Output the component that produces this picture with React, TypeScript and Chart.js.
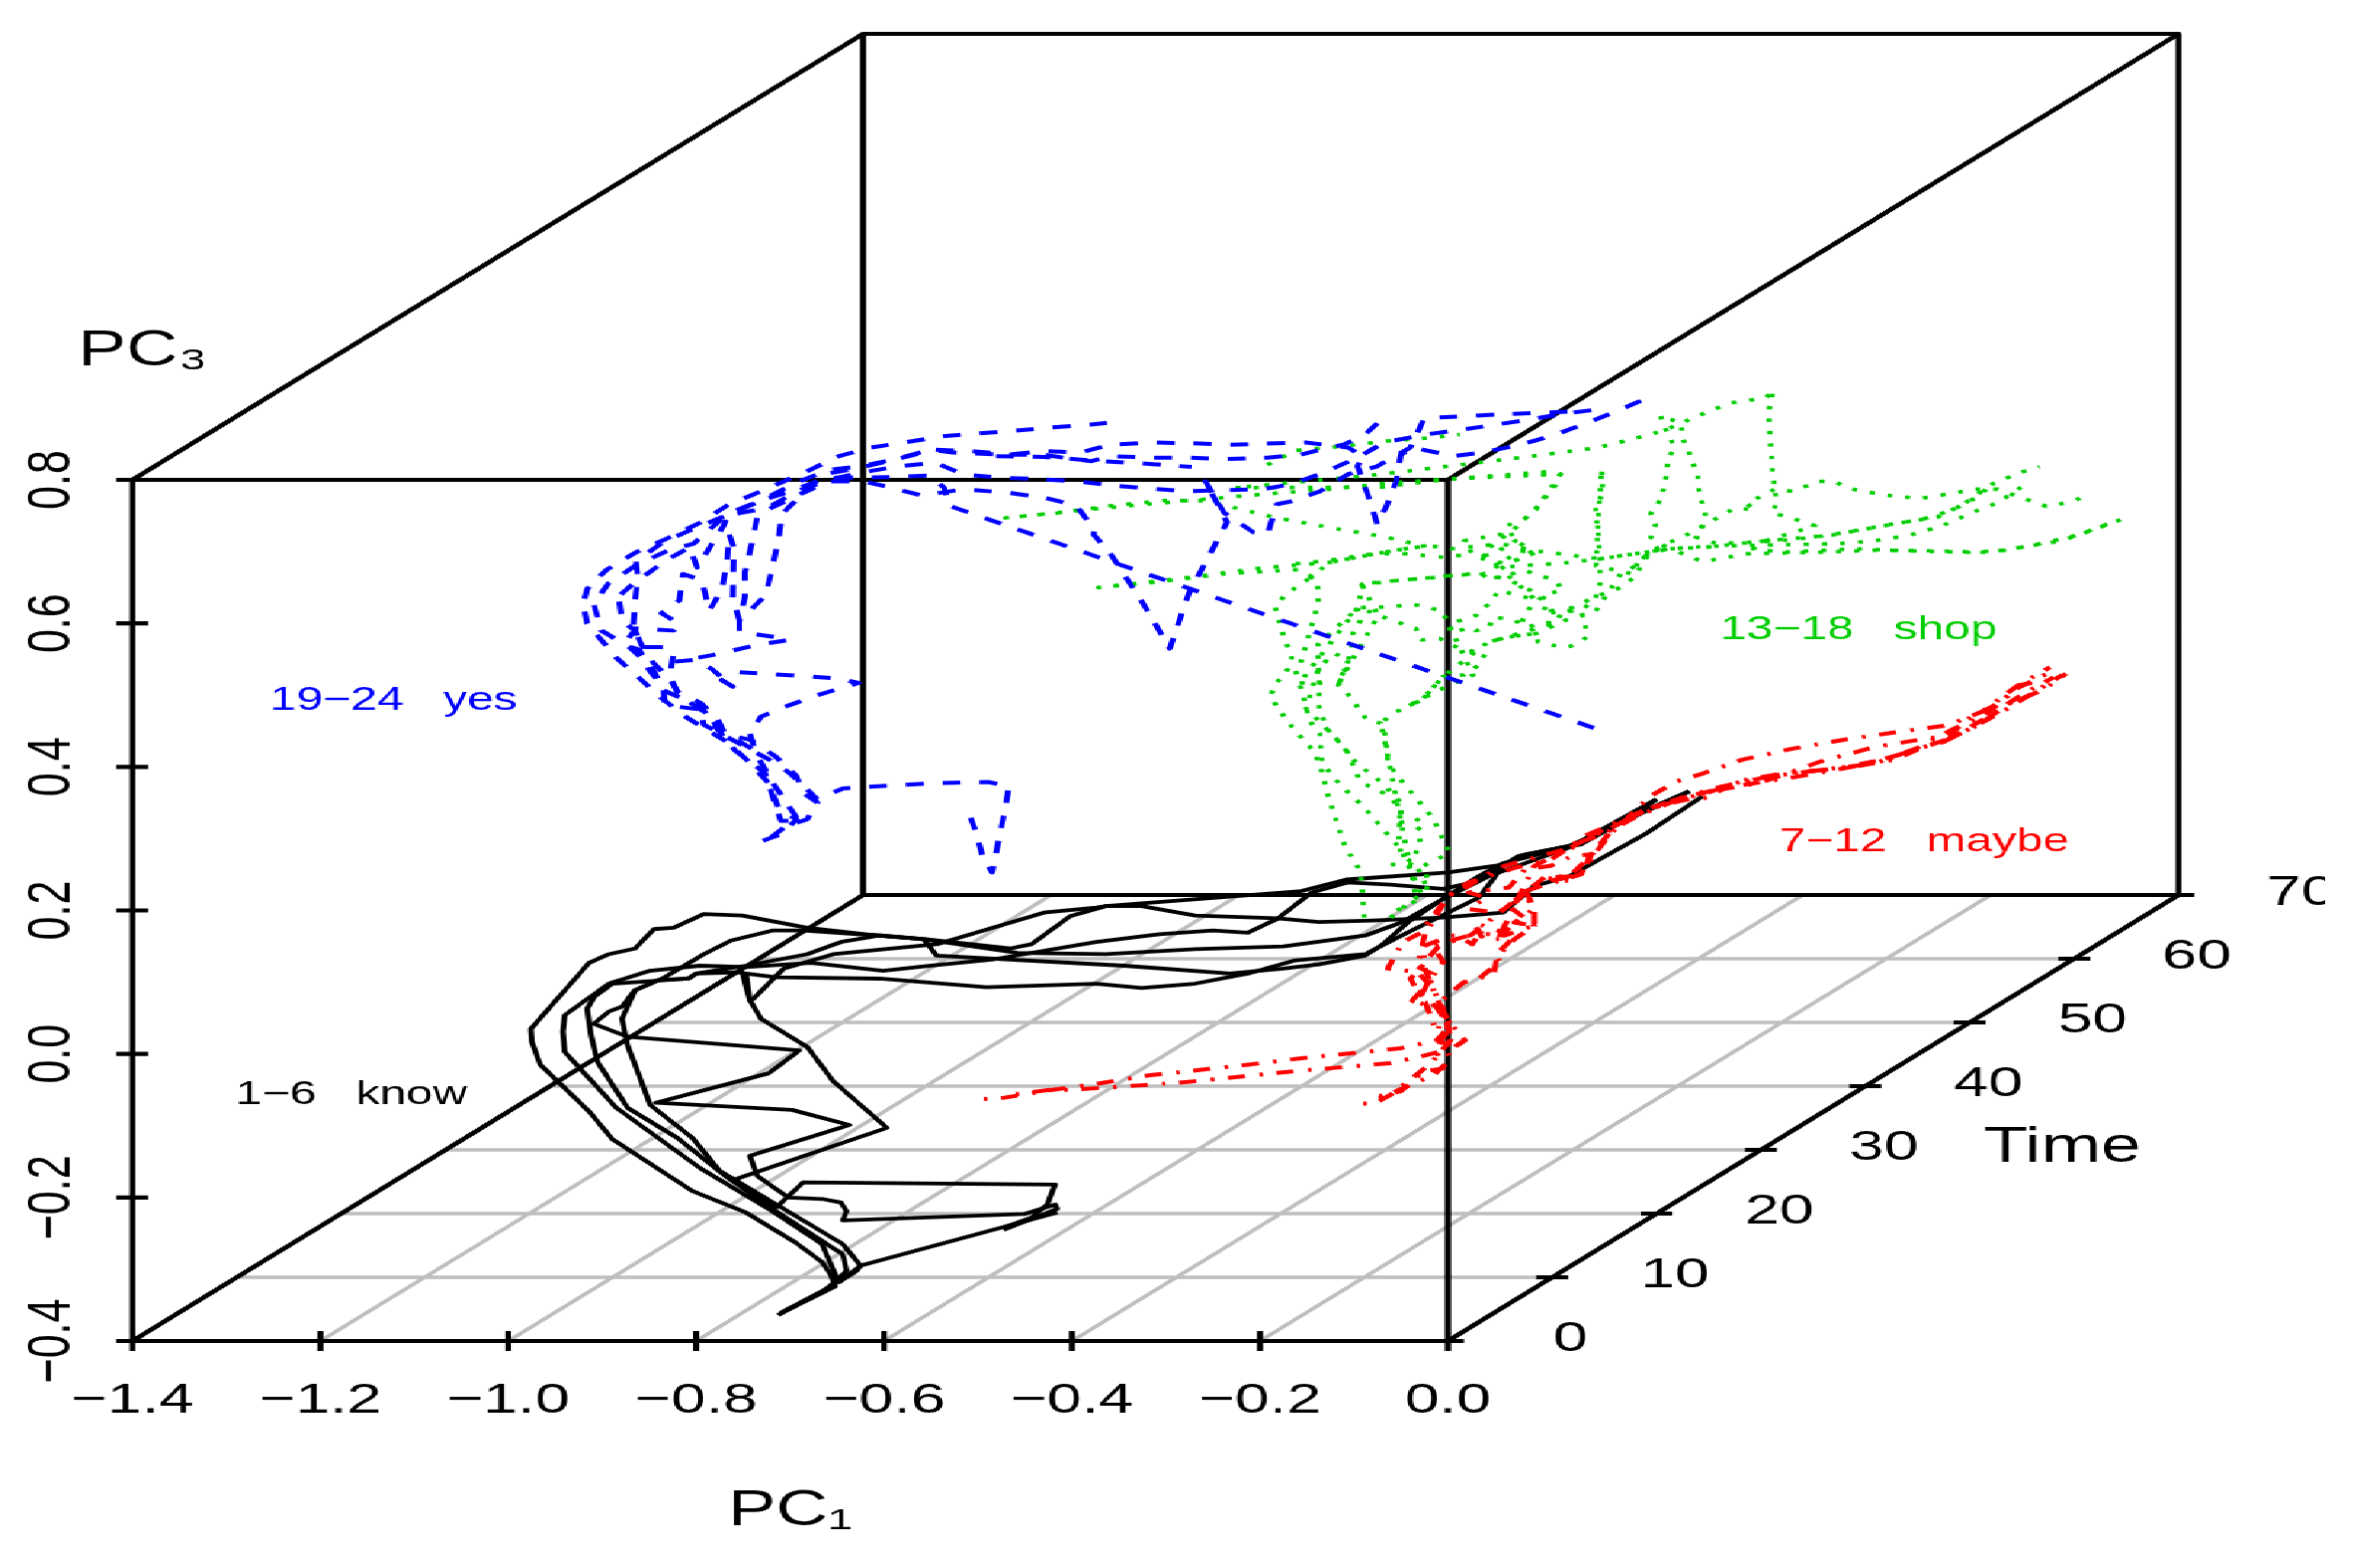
import React, { useEffect, useRef } from "react";
import { Chart, registerables } from "chart.js";

Chart.register(...registerables);

type P = [number, number];

const pc1Ticks = [-1.4, -1.2, -1.0, -0.8, -0.6, -0.4, -0.2, 0.0];
const pc1Labels = ["−1.4", "−1.2", "−1.0", "−0.8", "−0.6", "−0.4", "−0.2", "0.0"];
const pc3Ticks = [-0.4, -0.2, 0.0, 0.2, 0.4, 0.6, 0.8];
const pc3Labels = ["−0.4", "−0.2", "0.0", "0.2", "0.4", "0.6", "0.8"];
const timeTicks = [0, 10, 20, 30, 40, 50, 60, 70];

const black1: P[] = [[-.713,-.364],[-.686,-.346],[-.652,-.324],[-.656,-.309],[-.666,-.290],[-.694,-.263],[-.747,-.221],[-.804,-.191],[-.889,-.119],[-.914,-.080],[-.966,-.015],[-.975,.017],[-.976,.035],[-.914,.127],[-.893,.139],[-.865,.147],[-.845,.174],[-.824,.176],[-.792,.195],[-.751,.193],[-.682,.176],[-.613,.166],[-.556,.160],[-.466,.147],[-.443,.153],[-.402,.192],[-.364,.206],[-.326,.206],[-.269,.193],[-.182,.189],[-.137,.184],[-.080,.186],[-.005,.190],[.059,.197],[.092,.234],[.130,.248],[.168,.276],[.212,.308],[.271,.359]];
const black2: P[] = [[-.711,-.362],[-.674,-.336],[-.654,-.323],[-.650,-.313],[-.666,-.265],[-.719,-.219],[-.796,-.159],[-.885,-.075],[-.940,.003],[-.942,.031],[-.940,.054],[-.893,.098],[-.849,.116],[-.796,.123],[-.747,.121],[-.678,.127],[-.601,.116],[-.552,.123],[-.483,.132],[-.374,.156],[-.307,.167],[-.250,.172],[-.213,.169],[-.182,.188],[-.145,.225],[-.107,.239],[-.061,.236],[-.005,.230],[.033,.241],[.059,.262],[.076,.276],[.130,.290],[.141,.292],[.184,.322],[.222,.355]];
const black3: P[] = [[-.709,-.360],[-.670,-.335],[-.652,-.318],[-.640,-.302],[-.644,-.279],[-.715,-.219],[-.767,-.172],[-.820,-.117],[-.873,-.075],[-.905,-.011],[-.912,.026],[-.916,.063],[-.909,.079],[-.889,.098],[-.808,.105],[-.800,.112],[-.751,.114],[-.743,.075],[-.747,.112],[-.715,.107],[-.605,.105],[-.491,.093],[-.374,.098],[-.326,.092],[-.269,.098],[-.213,.112],[-.164,.130],[-.088,.139],[-.043,.169],[.033,.218],[.060,.264],[.082,.278],[.141,.292],[.190,.327],[.257,.366]];
const black4: P[] = [[-.416,-.221],[-.625,-.295],[-.629,-.302],[-.648,-.318],[-.625,-.295],[-.644,-.265],[-.759,-.175],[-.775,-.163],[-.804,-.117],[-.849,-.071],[-.861,-.029],[-.873,.012],[-.879,.049],[-.865,.089],[-.836,.105],[-.792,.139],[-.763,.158],[-.719,.172],[-.686,.172],[-.609,.165],[-.558,.160],[-.458,.141],[-.364,.139],[-.269,.146],[-.175,.150],[-.088,.165],[-.050,.183],[-.005,.216],[.033,.248],[.059,.266],[.130,.289],[.195,.331],[.257,.366]];
const black5: P[] = [[-.473,-.245],[-.443,-.230],[-.416,-.216],[-.418,-.210],[-.451,-.223],[-.644,-.232],[-.640,-.219],[-.646,-.207],[-.666,-.202],[-.702,-.200],[-.735,-.170],[-.743,-.142],[-.637,-.099],[-.698,-.078],[-.843,-.068],[-.723,-.027],[-.690,.005],[-.873,.024],[-.909,.042],[-.893,.059],[-.879,.066],[-.865,.089],[-.840,.103],[-.808,.105],[-.800,.112],[-.747,.123],[-.682,.139],[-.646,.156],[-.605,.165],[-.558,.160],[-.544,.137],[-.345,.123],[-.232,.112],[-.175,.119],[-.137,.125],[-.088,.137],[-.069,.153],[-.043,.183],[-.005,.216],[.044,.248],[.130,.288],[.222,.355]];
const black6: P[] = [[-.473,-.242],[-.443,-.228],[-.426,-.209],[-.418,-.182],[-.686,-.179],[-.715,-.214],[-.759,-.175],[-.597,-.103],[-.654,-.038],[-.682,.010],[-.731,.049],[-.743,.075],[-.739,.077],[-.707,.119],[-.654,.139],[-.544,.153],[-.430,.197],[-.374,.204],[-.364,.206],[-.156,.227],[-.108,.243],[.0,.253],[.060,.264],[.076,.276],[.130,.290],[.257,.366]];

const red1: P[] = [[-.494,-.063],[-.472,-.061],[-.421,-.050],[-.371,-.041],[-.319,-.030],[-.262,-.022],[-.213,-.015],[-.156,-.006],[-.103,.001],[-.050,.008],[-.012,.019],[.003,.040],[-.005,.058],[-.016,.091],[-.024,.118],[-.027,.153],[-.022,.181],[-.005,.211],[.007,.227],[.022,.239],[.073,.260],[.110,.271],[.142,.299],[.183,.322],[.211,.341],[.252,.354],[.276,.357],[.308,.380],[.361,.392],[.422,.398],[.475,.410],[.512,.431],[.532,.438],[.564,.458],[.597,.488],[.633,.507],[.658,.530]];
const red2: P[] = [[-.460,-.056],[-.424,-.050],[-.402,-.050],[-.330,-.044],[-.277,-.039],[-.224,-.032],[-.171,-.025],[-.118,-.019],[-.062,-.013],[-.024,-.002],[-.009,.003],[.003,.017],[-.001,.045],[-.010,.035],[-.005,.063],[-.016,.091],[-.032,.114],[-.064,.119],[-.048,.156],[-.021,.174],[.0,.220],[.022,.234],[.038,.248],[.060,.262],[.130,.287],[.146,.304],[.187,.327],[.235,.350],[.288,.368],[.333,.378],[.398,.408],[.455,.428],[.536,.445],[.548,.463],[.589,.491],[.605,.509],[.641,.532]];
const red3: P[] = [[-.090,-.069],[-.078,-.069],[-.061,-.057],[-.043,-.039],[-.020,-.015],[-.009,.0],[.003,.02],[-.005,.06],[-.032,.072],[-.021,.100],[-.005,.128],[-.016,.151],[.033,.169],[.060,.165],[.092,.179],[.071,.183],[.092,.202],[.082,.230],[.114,.243],[.141,.248],[.152,.276],[.130,.290],[.168,.308],[.201,.331],[.244,.354],[.276,.364],[.308,.378],[.345,.387],[.398,.396],[.455,.405],[.495,.424],[.528,.435],[.560,.456],[.593,.479],[.625,.505],[.654,.528]];
const red4: P[] = [[-.005,.026],[.010,.012],[.018,.019],[-.001,.049],[-.009,.072],[.017,.100],[.033,.105],[.049,.112],[.052,.135],[.071,.160],[.092,.179],[.065,.206],[.082,.227],[.141,.250],[.157,.280],[.174,.308],[.190,.327],[.215,.359],[.244,.380],[.272,.391],[.313,.410],[.369,.426],[.422,.438],[.475,.448],[.532,.458],[.569,.477],[.605,.512],[.641,.539]];
const red5: P[] = [[-.073,-.059],[-.050,-.052],[-.027,-.025],[-.005,-.020],[-.012,.003],[-.005,.026],[-.012,.031],[-.024,.072],[-.035,.077],[-.043,.068],[-.012,.109],[-.035,.123],[-.024,.151],[.003,.165],[.010,.165],[.026,.153],[.033,.167],[.056,.167],[.092,.262],[.114,.276],[.147,.299],[.174,.315],[.210,.340],[.250,.358],[.30,.372],[.37,.386],[.43,.400],[.49,.420],[.535,.440],[.575,.470],[.61,.500],[.645,.525]];
const red6: P[] = [[-.073,-.062],[-.043,-.045],[-.016,-.030],[.003,-.008],[-.007,.020],[.003,.035],[-.012,.065],[-.031,.085],[-.040,.105],[-.030,.118],[-.020,.135],[-.010,.15],[.025,.166],[.060,.202],[.082,.225],[.103,.246],[.130,.248],[.152,.276],[.184,.327],[.231,.350],[.292,.373],[.353,.389],[.414,.398],[.471,.412],[.499,.426],[.540,.454],[.572,.472],[.609,.514],[.637,.521]];
const red7: P[] = [[.017,.100],[.033,.105],[.055,.128],[.052,.139],[.068,.160],[.038,.160],[.033,.169],[.028,.183],[.060,.169],[.071,.183],[.092,.179],[.092,.199],[.082,.225],[.068,.206],[.052,.197],[.022,.202],[.041,.218],[.022,.225],[.065,.232],[.082,.257],[.109,.262],[.133,.276],[.152,.278],[.141,.248],[.103,.246],[.128,.241]];

const blue1: P[] = [[-.729,.297],[-.710,.306],[-.693,.327],[-.712,.341],[-.722,.376],[-.743,.406],[-.765,.433],[-.809,.468],[-.839,.498],[-.858,.521],[-.884,.551],[-.901,.577],[-.916,.600],[-.920,.627],[-.916,.648],[-.896,.674],[-.864,.699],[-.828,.720],[-.795,.741],[-.765,.766],[-.731,.784],[-.682,.812],[-.648,.833],[-.614,.845],[-.569,.854],[-.535,.861],[-.467,.868],[-.421,.873],[-.380,.877],[-.344,.882]];
const blue2: P[] = [[-.693,.322],[-.682,.327],[-.671,.350],[-.686,.364],[-.693,.387],[-.716,.415],[-.743,.438],[-.769,.445],[-.777,.466],[-.795,.489],[-.820,.505],[-.828,.523],[-.845,.544],[-.858,.570],[-.867,.595],[-.865,.632],[-.862,.664],[-.864,.687],[-.833,.715],[-.795,.736],[-.765,.752],[-.731,.771],[-.697,.794],[-.659,.814],[-.625,.819],[-.591,.828],[-.550,.842],[-.527,.838],[-.470,.835],[-.429,.840],[-.391,.838],[-.359,.849],[-.314,.852],[-.273,.851],[-.233,.849],[-.151,.852],[-.106,.845],[-.091,.833],[-.096,.819],[-.083,.771],[-.075,.738],[-.065,.764],[-.055,.798],[-.050,.835],[-.037,.845],[.006,.833],[.036,.838],[.077,.849],[.110,.861],[.148,.879],[.178,.895],[.216,.916]];
const blue3: P[] = [[-.720,.302],[-.697,.325],[-.710,.325],[-.714,.341],[-.727,.392],[-.758,.422],[-.777,.452],[-.795,.484],[-.835,.507],[-.846,.537],[-.871,.567],[-.901,.590],[-.909,.627],[-.894,.655],[-.864,.681],[-.831,.701],[-.803,.711],[-.769,.750],[-.724,.761],[-.693,.784],[-.656,.801],[-.625,.810],[-.584,.819],[-.546,.824],[-.514,.807],[-.474,.803],[-.434,.801],[-.395,.798],[-.354,.792],[-.319,.788],[-.278,.784],[-.197,.787],[-.167,.794],[-.136,.808],[-.096,.831],[-.068,.852],[-.025,.863],[.016,.870],[.051,.877],[.087,.884],[.127,.893],[.160,.898]];
const blue4: P[] = [[-.693,.329],[-.716,.373],[-.739,.424],[-.773,.450],[-.792,.477],[-.818,.500],[-.828,.526],[-.824,.558],[-.833,.567],[-.856,.567],[-.865,.590],[-.879,.604],[-.882,.632],[-.888,.632],[-.867,.655],[-.833,.687],[-.807,.706],[-.799,.678],[-.771,.736],[-.765,.754],[-.731,.771],[-.693,.787],[-.663,.803],[-.625,.803],[-.589,.804],[-.552,.806],[-.536,.789],[-.531,.764],[.165,.450]];
const blue5: P[] = [[-.739,.429],[-.743,.447],[-.731,.470],[-.705,.484],[-.671,.500],[-.627,.517],[-.648,.523],[-.678,.526],[-.716,.529],[-.756,.532],[-.773,.521],[-.761,.512],[-.784,.537],[-.803,.549],[-.820,.547],[-.782,.556],[-.735,.570],[-.701,.577],[-.716,.581],[-.754,.588],[-.754,.604],[-.748,.637],[-.748,.671],[-.741,.711],[-.735,.748],[-.720,.761],[-.686,.782],[-.659,.798],[-.622,.798],[-.599,.791],[-.559,.778],[-.516,.787],[-.467,.782],[-.429,.775],[-.395,.764],[-.376,.729],[-.377,.724],[-.359,.697],[-.324,.627],[-.296,.565],[-.276,.641],[-.235,.741],[-.258,.798],[-.238,.754],[-.207,.727],[-.192,.724],[-.182,.766],[-.167,.770],[-.136,.784],[-.106,.808],[-.075,.819],[-.040,.845],[-.025,.886],[.011,.888],[.051,.891],[.089,.893],[.127,.895]];
const blue6: P[] = [[-.508,.329],[-.502,.309],[-.495,.274],[-.485,.253],[-.478,.299],[-.472,.336],[-.467,.373],[-.489,.379],[-.527,.378],[-.567,.376],[-.606,.373],[-.644,.370],[-.671,.355],[-.701,.392],[-.722,.410],[-.792,.459],[-.795,.480],[-.833,.486],[-.835,.510],[-.850,.535],[-.860,.563],[-.877,.570],[-.864,.593],[-.824,.590],[-.818,.600],[-.837,.614],[-.818,.632],[-.814,.669],[-.794,.660],[-.786,.618],[-.773,.646],[-.767,.687],[-.765,.724],[-.760,.706],[-.761,.634],[-.754,.604],[-.726,.639],[-.718,.683],[-.712,.720],[-.709,.752],[-.686,.782],[-.663,.808],[-.625,.817],[-.589,.828],[-.546,.842],[-.508,.840],[-.463,.835],[-.429,.835],[-.410,.831],[-.380,.826],[-.359,.833],[-.314,.831],[-.278,.831],[-.238,.829],[-.192,.831],[-.157,.835],[-.126,.845],[-.111,.849],[-.088,.863],[-.065,.891]];
const blue7: P[] = [[-.481,.833],[-.430,.832],[-.369,.826],[-.314,.822],[-.273,.818]];

const green1: P[] = [[-.089,.190],[-.091,.225],[-.093,.255],[-.109,.288],[-.118,.322],[-.127,.358],[-.134,.393],[-.142,.421],[-.163,.451],[-.182,.484],[-.189,.499],[-.183,.516],[-.172,.532],[-.166,.552],[-.171,.569],[-.176,.587],[-.184,.623],[-.174,.638],[-.161,.651],[-.147,.663],[-.140,.662],[-.159,.675],[-.238,.669],[-.314,.657],[-.372,.650],[-.276,.664],[-.200,.677],[-.126,.685],[-.060,.701],[-.022,.708],[-.002,.706],[.004,.704],[.056,.711],[.094,.701],[.162,.690],[.199,.697],[.237,.704],[.271,.686],[.319,.697],[.393,.699],[.457,.702],[.518,.701],[.576,.699],[.614,.707],[.653,.715],[.688,.731],[.723,.748]];
const green2: P[] = [[-.061,.190],[-.043,.209],[-.024,.227],[-.020,.237],[-.026,.262],[.002,.280],[-.004,.295],[-.016,.329],[-.036,.360],[-.056,.391],[-.064,.408],[-.066,.442],[-.071,.461],[-.086,.465],[-.104,.498],[-.115,.514],[-.139,.517],[-.158,.517],[-.162,.535],[-.157,.544],[-.138,.627],[-.138,.646],[-.140,.662],[-.146,.664],[-.126,.685],[-.060,.701],[-.025,.708],[-.050,.715],[-.068,.721],[-.106,.729],[-.144,.738],[-.182,.747],[-.220,.759],[-.258,.771],[-.303,.771],[-.359,.764],[-.415,.754],[-.471,.747],[-.380,.759],[-.278,.771],[-.197,.780],[-.126,.787],[-.060,.796],[-.002,.801],[.072,.808],[.112,.812],[.120,.808],[.114,.791],[.094,.761],[.069,.729],[.053,.715],[.036,.697],[.056,.678],[.085,.681],[.123,.684],[.162,.690],[.199,.697],[.237,.704],[.274,.706],[.338,.715],[.409,.723],[.447,.732],[.486,.741],[.521,.748],[.550,.767],[.579,.794],[.611,.811],[.630,.818]];
const green3: P[] = [[-.029,.225],[-.050,.285],[-.070,.315],[-.090,.345],[-.114,.374],[-.134,.406],[-.136,.446],[-.147,.464],[-.154,.499],[-.158,.517],[-.095,.623],[-.074,.611],[-.092,.655],[-.053,.660],[-.015,.664],[.004,.667],[.043,.669],[.075,.655],[.088,.646],[.107,.632],[.101,.614],[.142,.618],[.157,.634],[.162,.655],[.162,.690],[.160,.727],[.157,.764],[.165,.780],[.164,.815],[.160,.745],[.158,.680],[.197,.669],[.202,.685],[.216,.700],[.255,.706],[.295,.708],[.415,.711],[.454,.715],[.489,.722],[.526,.736],[.563,.757],[.585,.768],[.614,.793]];
const green4: P[] = [[-.024,.237],[-.033,.262],[-.050,.278],[-.052,.305],[-.050,.341],[-.064,.361],[-.093,.379],[-.107,.421],[-.127,.451],[-.137,.481],[-.137,.517],[-.138,.551],[-.138,.571],[-.095,.622],[-.057,.623],[-.041,.627],[-.021,.623],[-.005,.616],[.004,.586],[.024,.595],[.030,.590],[.043,.593],[.049,.609],[.072,.604],[.081,.595],[.107,.600],[.110,.618],[.142,.618],[.149,.582],[.136,.570],[.124,.566],[.096,.574],[.094,.586],[.065,.581],[.043,.574],[.157,.616],[.184,.669],[.197,.678],[.216,.701],[.235,.704],[.216,.720],[.221,.738],[.216,.753],[.227,.774],[.230,.791],[.233,.809],[.234,.827],[.241,.846],[.232,.870],[.226,.890],[.248,.879],[.250,.857],[.256,.841],[.261,.823],[.266,.805],[.267,.788],[.270,.771],[.274,.752],[.271,.734],[.264,.720],[.287,.711],[.319,.713],[.351,.715],[.390,.720],[.428,.728],[.467,.737],[.505,.745],[.537,.758],[.566,.778],[.578,.794]];
const green5: P[] = [[-.061,.264],[-.040,.264],[-.029,.294],[-.033,.312],[-.025,.321],[-.036,.329],[-.051,.322],[-.049,.349],[-.071,.379],[-.097,.405],[-.117,.437],[-.137,.464],[-.151,.481],[-.138,.536],[-.122,.558],[-.105,.551],[-.116,.517],[-.074,.611],[-.034,.593],[-.028,.577],[-.009,.579],[.014,.564],[.040,.558],[.033,.542],[.017,.528],[-.005,.526],[-.028,.493],[-.044,.484],[-.028,.493],[-.005,.526],[.043,.574],[.065,.581],[.094,.586],[.113,.597],[.122,.616],[.157,.637],[.184,.650],[.198,.664],[.216,.701],[.255,.724],[.306,.761],[.327,.758],[.318,.767],[.348,.787],[.367,.784],[.395,.798],[.411,.798],[.427,.788],[.464,.779],[.503,.774],[.540,.782],[.559,.787],[.585,.787],[.637,.763],[.666,.770],[.682,.781]];
const green6: P[] = [[-.054,.200],[-.033,.214],[-.071,.461],[-.060,.473],[-.044,.484],[-.028,.494],[-.013,.505],[.004,.515],[.027,.528],[.001,.599],[.030,.611],[.046,.630],[.054,.646],[.081,.637],[.094,.632],[.056,.676],[.091,.701],[.072,.715],[.062,.736],[.081,.745],[.094,.759],[.104,.778],[.120,.808],[.0,.801],[-.070,.790],[-.227,.789],[-.126,.801],[-.070,.808],[-.013,.817],[.045,.826],[.102,.835],[.160,.845],[.215,.863],[.232,.870],[.266,.889],[.300,.907],[.338,.914],[.347,.925],[.341,.895],[.343,.858],[.345,.824],[.346,.805],[.348,.787],[.350,.768],[.345,.754],[.363,.748],[.391,.736],[.338,.715],[.325,.704],[.356,.699],[.434,.704],[.492,.701],[.556,.699],[.595,.702],[.634,.712],[.670,.723],[.705,.740]];
const green7: P[] = [[-.192,.821],[-.162,.841],[-.111,.847],[-.065,.854],[-.025,.858],[.013,.863],[.051,.869],[.089,.872],[.130,.878],[.168,.883],[.207,.888],[.226,.890],[.237,.882],[.248,.879]];
const green8: P[] = [[-.162,.683],[-.126,.688],[-.080,.697],[-.045,.697],[-.004,.692],[.026,.697],[.017,.715],[.056,.724],[.072,.715],[.049,.697],[.030,.692],[.062,.683],[.094,.699],[.075,.701],[.056,.683],[.036,.664],[.056,.664],[.081,.674],[.114,.660],[.123,.646],[.104,.641],[.088,.623],[.075,.595]];
const green9: P[] = [[-.116,.516],[-.108,.540],[-.103,.563],[-.101,.586],[-.093,.604],[-.096,.621],[-.093,.639],[-.091,.655],[-.070,.657],[-.053,.660],[-.032,.662],[-.012,.664],[.006,.667],[.025,.669],[.040,.670]];

const blackSeries = [black1, black2, black3, black4, black5, black6];
const redSeries = [red1, red2, red3, red4, red5, red6, red7];
const blueSeries = [blue1, blue2, blue3, blue4, blue5, blue6, blue7];
const greenSeries = [green1, green2, green3, green4, green5, green6, green7, green8, green9];

const notes: { text: string; x: number; y: number; color: string; size: number }[] = [
  { text: "1−6   know", x: -1.167, y: -0.053, color: "#000000", size: 33 },
  { text: "7−12   maybe", x: 0.507, y: 0.300, color: "#FF0000", size: 33 },
  { text: "13−18   shop", x: 0.437, y: 0.595, color: "#00CD00", size: 33 },
  { text: "19−24   yes", x: -1.122, y: 0.496, color: "#0000FF", size: 33 },
  { text: "Time", x: 0.654, y: -0.127, color: "#000000", size: 50 },
  { text: "PC₃", x: -1.389, y: 0.983, color: "#000000", size: 50 },
];

const FONT = '"Liberation Sans", Arial, sans-serif';
const CANVAS_W = 1610;
const CANVAS_H = 1575;
const STRETCH = 2335 / CANVAS_W;
const TIME_X = 0.01111;
const TIME_Y = 0.008879;
const GAP = { x: NaN, y: NaN };
const proj = (pc1: number, t: number, pc3: number) => ({ x: pc1 + t * TIME_X, y: pc3 + t * TIME_Y });

function frameData() {
  const [x0, x1] = [pc1Ticks[0], pc1Ticks[pc1Ticks.length - 1]];
  const [t0, t1] = [timeTicks[0], timeTicks[timeTicks.length - 1]];
  const [y0, y1] = [pc3Ticks[0], pc3Ticks[pc3Ticks.length - 1]];
  const pts: any[] = [];
  const seg = (...p: any[]) => pts.push(...p, GAP);
  for (const t of [t0, t1]) seg(proj(x0, t, y0), proj(x1, t, y0), proj(x1, t, y1), proj(x0, t, y1), proj(x0, t, y0));
  for (const [x, y] of [[x0, y0], [x1, y0], [x0, y1], [x1, y1]]) seg(proj(x, t0, y), proj(x, t1, y));
  for (const x of pc1Ticks) seg({ x, y: y0 - 0.0139 }, { x, y: y0 + 0.0139 });
  for (const y of pc3Ticks) seg({ x: x0 - 0.017, y }, { x: x0 + 0.017, y });
  for (const t of timeTicks) {
    const p = proj(x1, t, y0);
    seg({ x: p.x - 0.017, y: p.y }, { x: p.x + 0.017, y: p.y });
  }
  return pts;
}

function gridData() {
  const [x0, x1] = [pc1Ticks[0], pc1Ticks[pc1Ticks.length - 1]];
  const [t0, t1] = [timeTicks[0], timeTicks[timeTicks.length - 1]];
  const y0 = pc3Ticks[0];
  const pts: any[] = [];
  for (const x of pc1Ticks.slice(1, -1)) pts.push(proj(x, t0, y0), proj(x, t1, y0), GAP);
  for (const t of timeTicks.slice(1, -1)) pts.push(proj(x0, t, y0), proj(x1, t, y0), GAP);
  return pts;
}

const line = (data: any[], color: string, width: number, dash: number[], order: number) => ({
  data,
  borderColor: color,
  backgroundColor: color,
  borderWidth: width,
  borderDash: dash,
  borderCapStyle: "butt" as const,
  borderJoinStyle: "round" as const,
  showLine: true,
  pointRadius: 0,
  tension: 0,
  clip: false as any,
  spanGaps: false,
  order,
});

const toXY = (s: P[]) => s.map(([x, y]) => ({ x, y }));

const textPlugin = {
  id: "floatingText",
  afterDatasetsDraw(chart: any) {
    const { ctx, scales } = chart;
    ctx.save();
    ctx.textAlign = "center";
    ctx.textBaseline = "middle";
    for (const n of notes) {
      ctx.font = `${n.size}px ${FONT}`;
      ctx.fillStyle = n.color;
      ctx.fillText(n.text, scales.x.getPixelForValue(n.x), scales.y.getPixelForValue(n.y) + 3);
    }
    ctx.font = `43px ${FONT}`;
    ctx.fillStyle = "#000000";
    const x1 = pc1Ticks[pc1Ticks.length - 1];
    const y0 = pc3Ticks[0];
    for (const t of timeTicks) {
      const p = proj(x1, t, y0);
      ctx.fillText(String(t), scales.x.getPixelForValue(p.x) + 85, scales.y.getPixelForValue(p.y) - 2);
    }
    ctx.restore();
  },
};

export default function App() {
  const ref = useRef<HTMLCanvasElement>(null);
  useEffect(() => {
    document.body.style.background = "#ffffff";
    const chart = new Chart(ref.current as HTMLCanvasElement, {
      type: "scatter",
      data: {
        datasets: [
          ...redSeries.map((s) => line(toXY(s), "#FF0000", 4, [2.5, 9.5, 12, 10], 1)),
          ...blueSeries.map((s) => line(toXY(s), "#0000FF", 4, [12.5, 13], 2)),
          ...greenSeries.map((s) => line(toXY(s), "#00CD00", 3.6, [3.4, 9.1], 3)),
          ...blackSeries.map((s) => line(toXY(s), "#000000", 3.8, [], 4)),
          line(frameData(), "#000000", 4.2, [], 5),
          line(gridData(), "#BEBEBE", 3.4, [], 6),
        ],
      } as any,
      plugins: [textPlugin],
      options: {
        responsive: false,
        animation: false,
        devicePixelRatio: 1,
        events: [],
        layout: { padding: { left: 0, top: 482, right: CANVAS_W - 1454 / STRETCH, bottom: 0 } },
        plugins: { legend: { display: false }, tooltip: { enabled: false } },
        scales: {
          x: {
            type: "linear",
            min: -1.4,
            max: 0,
            afterBuildTicks: (s: any) => { s.ticks = pc1Ticks.map((value) => ({ value })); },
            afterFit: (s: any) => { s.height = CANVAS_H - 1347; },
            grid: { display: false },
            border: { display: false },
            ticks: {
              color: "#000000",
              autoSkip: false,
              maxRotation: 0,
              minRotation: 0,
              padding: 26,
              font: { family: FONT, size: 43 },
              callback: (v: any) => pc1Labels[pc1Ticks.findIndex((t) => Math.abs(t - v) < 1e-6)],
            },
            title: {
              display: true,
              text: "PC₁",
              color: "#000000",
              font: { family: FONT, size: 50 },
              padding: { top: 0, bottom: 27 },
            },
          },
          y: {
            type: "linear",
            min: -0.4,
            max: 0.8,
            afterBuildTicks: (s: any) => { s.ticks = pc3Ticks.map((value) => ({ value })); },
            afterFit: (s: any) => { s.width = 133 / STRETCH; },
            grid: { display: false },
            border: { display: false },
            ticks: {
              color: "#000000",
              autoSkip: false,
              minRotation: 90,
              maxRotation: 90,
              crossAlign: "center",
              padding: 5,
              font: { family: FONT, size: 43 },
              callback: (v: any) => pc3Labels[pc3Ticks.findIndex((t) => Math.abs(t - v) < 1e-6)],
            },
          },
        },
      } as any,
    });
    return () => chart.destroy();
  }, []);
  return (
    <div style={{ position: "absolute", left: 0, top: 0, width: CANVAS_W, height: CANVAS_H, transform: `scaleX(${STRETCH})`, transformOrigin: "0 0" }}>
      <canvas ref={ref} width={CANVAS_W} height={CANVAS_H} style={{ display: "block", imageRendering: "pixelated" }} />
    </div>
  );
}
